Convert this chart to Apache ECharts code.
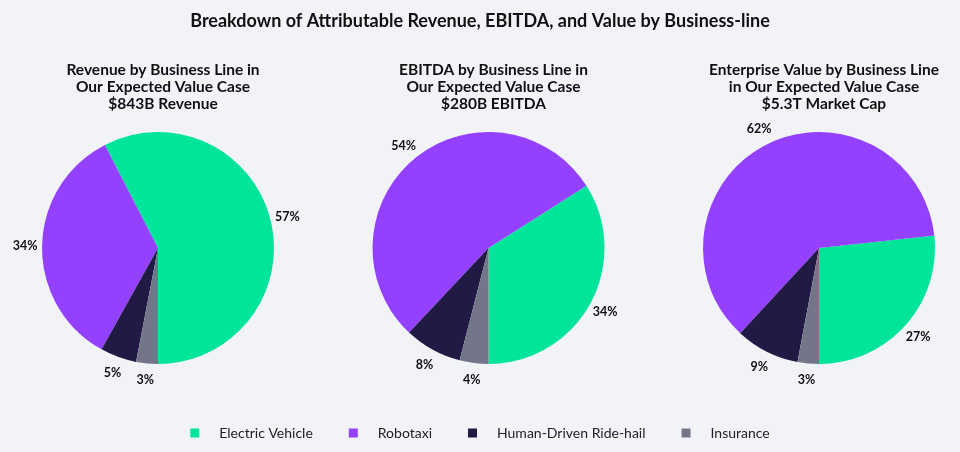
<!DOCTYPE html>
<html>
<head>
<meta charset="utf-8">
<script src="https://cdn.jsdelivr.net/npm/echarts@6/dist/echarts.min.js"></script>
<style>
html,body{margin:0;padding:0;background:#f2f3f7;}
#chart{width:960px;height:452px;}
</style>
</head>
<body>
<div id="chart"></div>
<script>
const mainTitle = 'Breakdown of Attributable Revenue, EBITDA, and Value by Business-line';
const categories = ['Electric Vehicle', 'Robotaxi', 'Human-Driven Ride-hail', 'Insurance'];
const revenueShare = [57, 34, 5, 3];
const ebitdaShare = [34, 54, 8, 4];
const valueShare = [27, 62, 9, 3];
const pieTitles = [
  'Revenue by Business Line in\nOur Expected Value Case\n$843B Revenue',
  'EBITDA by Business Line in\nOur Expected Value Case\n$280B EBITDA',
  'Enterprise Value by Business Line\nin Our Expected Value Case\n$5.3T Market Cap'
];
const colors = ['#00e599', '#9340ff', '#201a45', '#737688'];

const centersX = [158, 488.5, 819];
const shares = [revenueShare, ebitdaShare, valueShare];
const FONT = 'Lato';

const chart = echarts.init(document.getElementById('chart'));

const titles = [{
  text: mainTitle,
  left: 'center',
  top: 7,
  textStyle: { fontFamily: FONT, fontWeight: 'bold', fontSize: 18, color: '#111' }
}];
pieTitles.forEach((t, i) => {
  titles.push({
    text: t,
    left: centersX[i],
    top: 56,
    textAlign: 'center',
    textStyle: { fontFamily: FONT, fontWeight: 'bold', fontSize: 15.5, color: '#111', lineHeight: 17 }
  });
});

const series = shares.map((vals, i) => ({
  type: 'pie',
  center: [centersX[i], 248],
  radius: 116,
  startAngle: 270,
  clockwise: false,
  avoidLabelOverlap: false,
  silent: true,
  itemStyle: { borderWidth: 0 },
  label: {
    show: true,
    position: 'outside',
    formatter: '{c}%',
    distanceToLabelLine: 0,
    fontFamily: FONT,
    fontWeight: 'bold',
    fontSize: 12.5,
    color: '#111'
  },
  labelLine: { show: false, length: 17, length2: 0 },
  labelLayout: function (p) {
    const w = p.labelRect.width;
    if (p.align === 'left') return { dx: -w / 2 };
    if (p.align === 'right') return { dx: w / 2 };
    return {};
  },
  data: categories.map((c, j) => ({ name: c, value: vals[j] }))
}));

chart.setOption({
  backgroundColor: '#f2f3f7',
  color: colors,
  animation: false,
  title: titles,
  legend: {
    data: categories,
    bottom: 7,
    left: 'center',
    icon: 'rect',
    itemWidth: 9,
    itemHeight: 9,
    itemGap: 36,
    textStyle: { fontFamily: FONT, fontSize: 14, color: '#222', padding: [0, 0, 0, 15] }
  },
  series: series
});
</script>
</body>
</html>
